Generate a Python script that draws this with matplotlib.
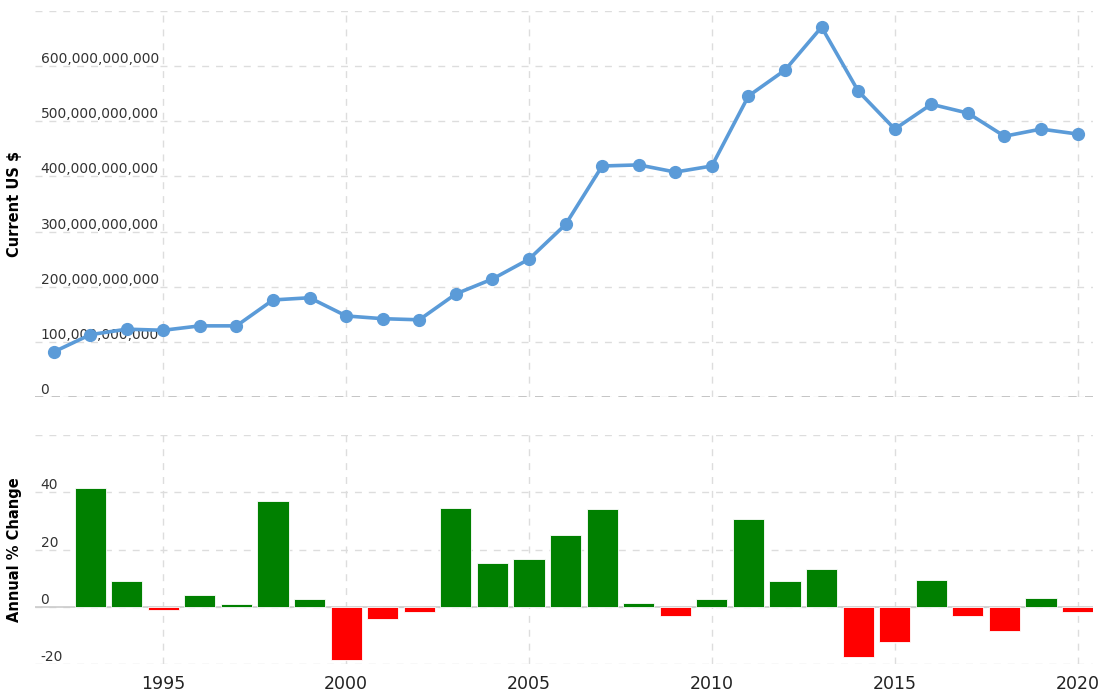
import matplotlib.pyplot as plt
from matplotlib.ticker import FuncFormatter

plt.rcParams['axes.unicode_minus'] = False

# data
years = list(range(1992, 2021))
values_bn = [81.6, 113, 123, 121, 129, 129, 176, 180, 147, 142, 140,
             187, 214, 250, 313, 419, 421, 408, 419, 546, 593, 671,
             555, 486, 531, 515, 473, 486, 477]
change_years = list(range(1993, 2021))
change_pct = [41.4, 8.9, -1.0, 4.2, 1.0, 37.1, 2.8, -18.6, -4.1, -1.9,
              34.4, 15.4, 16.7, 25.0, 34.1, 1.2, -3.3, 2.8, 30.6, 8.9,
              13.2, -17.5, -12.2, 9.2, -3.3, -8.4, 2.9, -1.9]

values = [v * 1e9 for v in values_bn]
bar_colors = ['#008000' if c >= 0 else '#ff0000' for c in change_pct]

fig = plt.figure(figsize=(10.99, 6.94), dpi=100)
ax1 = fig.add_axes([0.0318, 0.428, 0.9627, 0.556])
ax2 = fig.add_axes([0.0318, 0.0432, 0.9627, 0.330])

grid_kw = dict(color='#dddddd', linestyle=(0, (5, 5)), linewidth=1)

# top: value line
ax1.plot(years, values, color='#5b9bd8', linewidth=2.6, marker='o',
         markersize=8.5, zorder=3)
ax1.set_xlim(1991.49, 2020.42)
ax1.set_ylim(0, 7e11)
ax1.set_yticks([i * 1e11 for i in range(0, 7)])
ax1.yaxis.set_major_formatter(FuncFormatter(lambda v, p: f'{int(v):,}'))
ax1.set_xticks(range(1995, 2021, 5))
ax1.tick_params(axis='x', labelbottom=False, length=0)
ax1.grid(True, **grid_kw)
ax1.axhline(7e11, **grid_kw)
ax1.axhline(0, color='#bbbbbb', linestyle=(0, (5, 5)), linewidth=1.2)
ax1.set_ylabel('Current US $', fontsize=10.5, fontweight='bold')

# bottom: annual % change bars
ax2.bar(change_years, change_pct, width=0.85, color=bar_colors,
        edgecolor='white', linewidth=0.6, zorder=3)
ax2.set_xlim(1991.49, 2020.42)
ax2.set_ylim(-20, 60)
ax2.set_yticks([-20, 0, 20, 40])
ax2.set_xticks(range(1995, 2021, 5))
ax2.grid(True, **grid_kw)
ax2.axhline(60, **grid_kw)
ax2.axhline(0, color='#cccccc', linewidth=1.2, zorder=2)
ax2.tick_params(axis='x', length=0, labelsize=12.5, labelcolor='#222222', pad=8)
ax2.set_ylabel('Annual % Change', fontsize=10.5, fontweight='bold')

for ax in (ax1, ax2):
    for s in ax.spines.values():
        s.set_visible(False)
    ax.set_axisbelow(True)
    ax.tick_params(axis='y', length=0, pad=-4, labelsize=10, labelcolor='#333333')
    plt.setp(ax.get_yticklabels(), ha='left', va='bottom')
    ax.yaxis.set_label_coords(-0.012, 0.5)

fig.savefig('out.png', dpi=100)
